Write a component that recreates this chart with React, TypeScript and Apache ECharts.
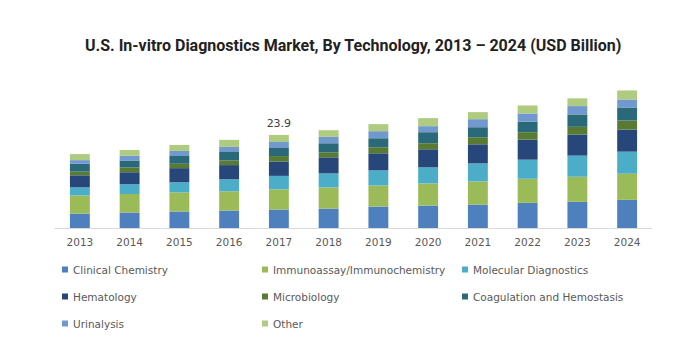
import React, { useEffect, useRef } from "react";
import * as echarts from "echarts";

const years = ["2013", "2014", "2015", "2016", "2017", "2018", "2019", "2020", "2021", "2022", "2023", "2024"];

const clinicalChemistry = [3.7, 3.97, 4.23, 4.49, 4.75, 4.99, 5.5, 5.76, 6.02, 6.45, 6.71, 7.22];
const immunoassay = [4.66, 4.75, 4.92, 4.92, 5.18, 5.42, 5.42, 5.68, 5.93, 6.19, 6.45, 6.71];
const molecularDiagnostics = [2.07, 2.5, 2.59, 3.11, 3.45, 3.61, 3.87, 4.13, 4.64, 4.9, 5.42, 5.67];
const hematology = [3.1, 3.11, 3.63, 3.63, 3.71, 4.13, 4.39, 4.64, 4.9, 5.16, 5.42, 5.67];
const microbiology = [0.95, 1.21, 1.12, 1.21, 1.38, 1.29, 1.55, 1.55, 1.81, 1.89, 1.98, 2.32];
const coagulation = [2.0, 1.81, 1.99, 2.16, 2.07, 2.32, 2.32, 2.84, 2.58, 2.67, 3.18, 3.35];
const urinalysis = [0.95, 1.21, 1.3, 1.3, 1.55, 1.63, 1.81, 1.55, 2.06, 2.15, 2.15, 2.06];
const other = [1.55, 1.47, 1.55, 1.81, 1.81, 1.72, 1.81, 2.06, 1.81, 2.06, 1.98, 2.32];

const labelYear = "2017";
const labelText = "23.9";

const seriesNames = [
  "Clinical Chemistry",
  "Immunoassay/Immunochemistry",
  "Molecular Diagnostics",
  "Hematology",
  "Microbiology",
  "Coagulation and Hemostasis",
  "Urinalysis",
  "Other",
];
const seriesData = [clinicalChemistry, immunoassay, molecularDiagnostics, hematology, microbiology, coagulation, urinalysis, other];
const colors = ["#4F80BE", "#9BBB59", "#4BADC8", "#27477A", "#587A33", "#2A6978", "#7199CF", "#AFCB80"];

export default function App() {
  const ref = useRef<HTMLDivElement>(null);
  useEffect(() => {
    if (!ref.current) return;
    const chart = echarts.init(ref.current, undefined, { renderer: "svg" });
    const legendFont = { fontFamily: "DejaVu Sans", fontSize: 10.5, color: "#595959" };
    const legendCommon = {
      orient: "vertical" as const,
      top: 264,
      padding: 0,
      itemWidth: 6,
      itemHeight: 6,
      itemGap: 16,
      icon: "rect",
      textStyle: legendFont,
      selectedMode: false,
    };
    const series = seriesNames.map((name, i) => ({
      name,
      type: "bar",
      stack: "total",
      barWidth: "40%",
      itemStyle: { color: colors[i] },
      data: seriesData[i].map((v, j) =>
        i === seriesNames.length - 1 && years[j] === labelYear
          ? {
              value: v,
              label: {
                show: true,
                position: "top",
                distance: 6,
                formatter: labelText,
                fontFamily: "DejaVu Sans",
                fontSize: 11,
                color: "#404040",
              },
            }
          : v
      ),
    }));
    chart.setOption({
      animation: false,
      color: colors,
      title: {
        text: "U.S. In-vitro Diagnostics Market, By Technology, 2013 – 2024 (USD Billion)",
        left: 85,
        top: 37,
        padding: 0,
        textStyle: { fontFamily: "Roboto", fontWeight: "bold", fontSize: 16, color: "#222222" },
      },
      grid: { left: 55, right: 38, top: 80, bottom: 133 },
      xAxis: {
        type: "category",
        data: years,
        axisLine: { lineStyle: { color: "#D9D9D9" } },
        axisTick: { show: false },
        axisLabel: { fontFamily: "DejaVu Sans", fontSize: 10.5, color: "#595959", margin: 8 },
      },
      yAxis: {
        type: "value",
        min: 0,
        max: 38,
        show: false,
        splitLine: { show: false },
      },
      legend: [
        { ...legendCommon, left: 62, data: [seriesNames[0], seriesNames[3], seriesNames[6]] },
        { ...legendCommon, left: 262, data: [seriesNames[1], seriesNames[4], seriesNames[7]] },
        { ...legendCommon, left: 462, data: [seriesNames[2], seriesNames[5]] },
      ],
      series,
    });
    return () => chart.dispose();
  }, []);
  return <div ref={ref} style={{ position: "absolute", left: 0, top: 0, width: 690, height: 361 }} />;
}
